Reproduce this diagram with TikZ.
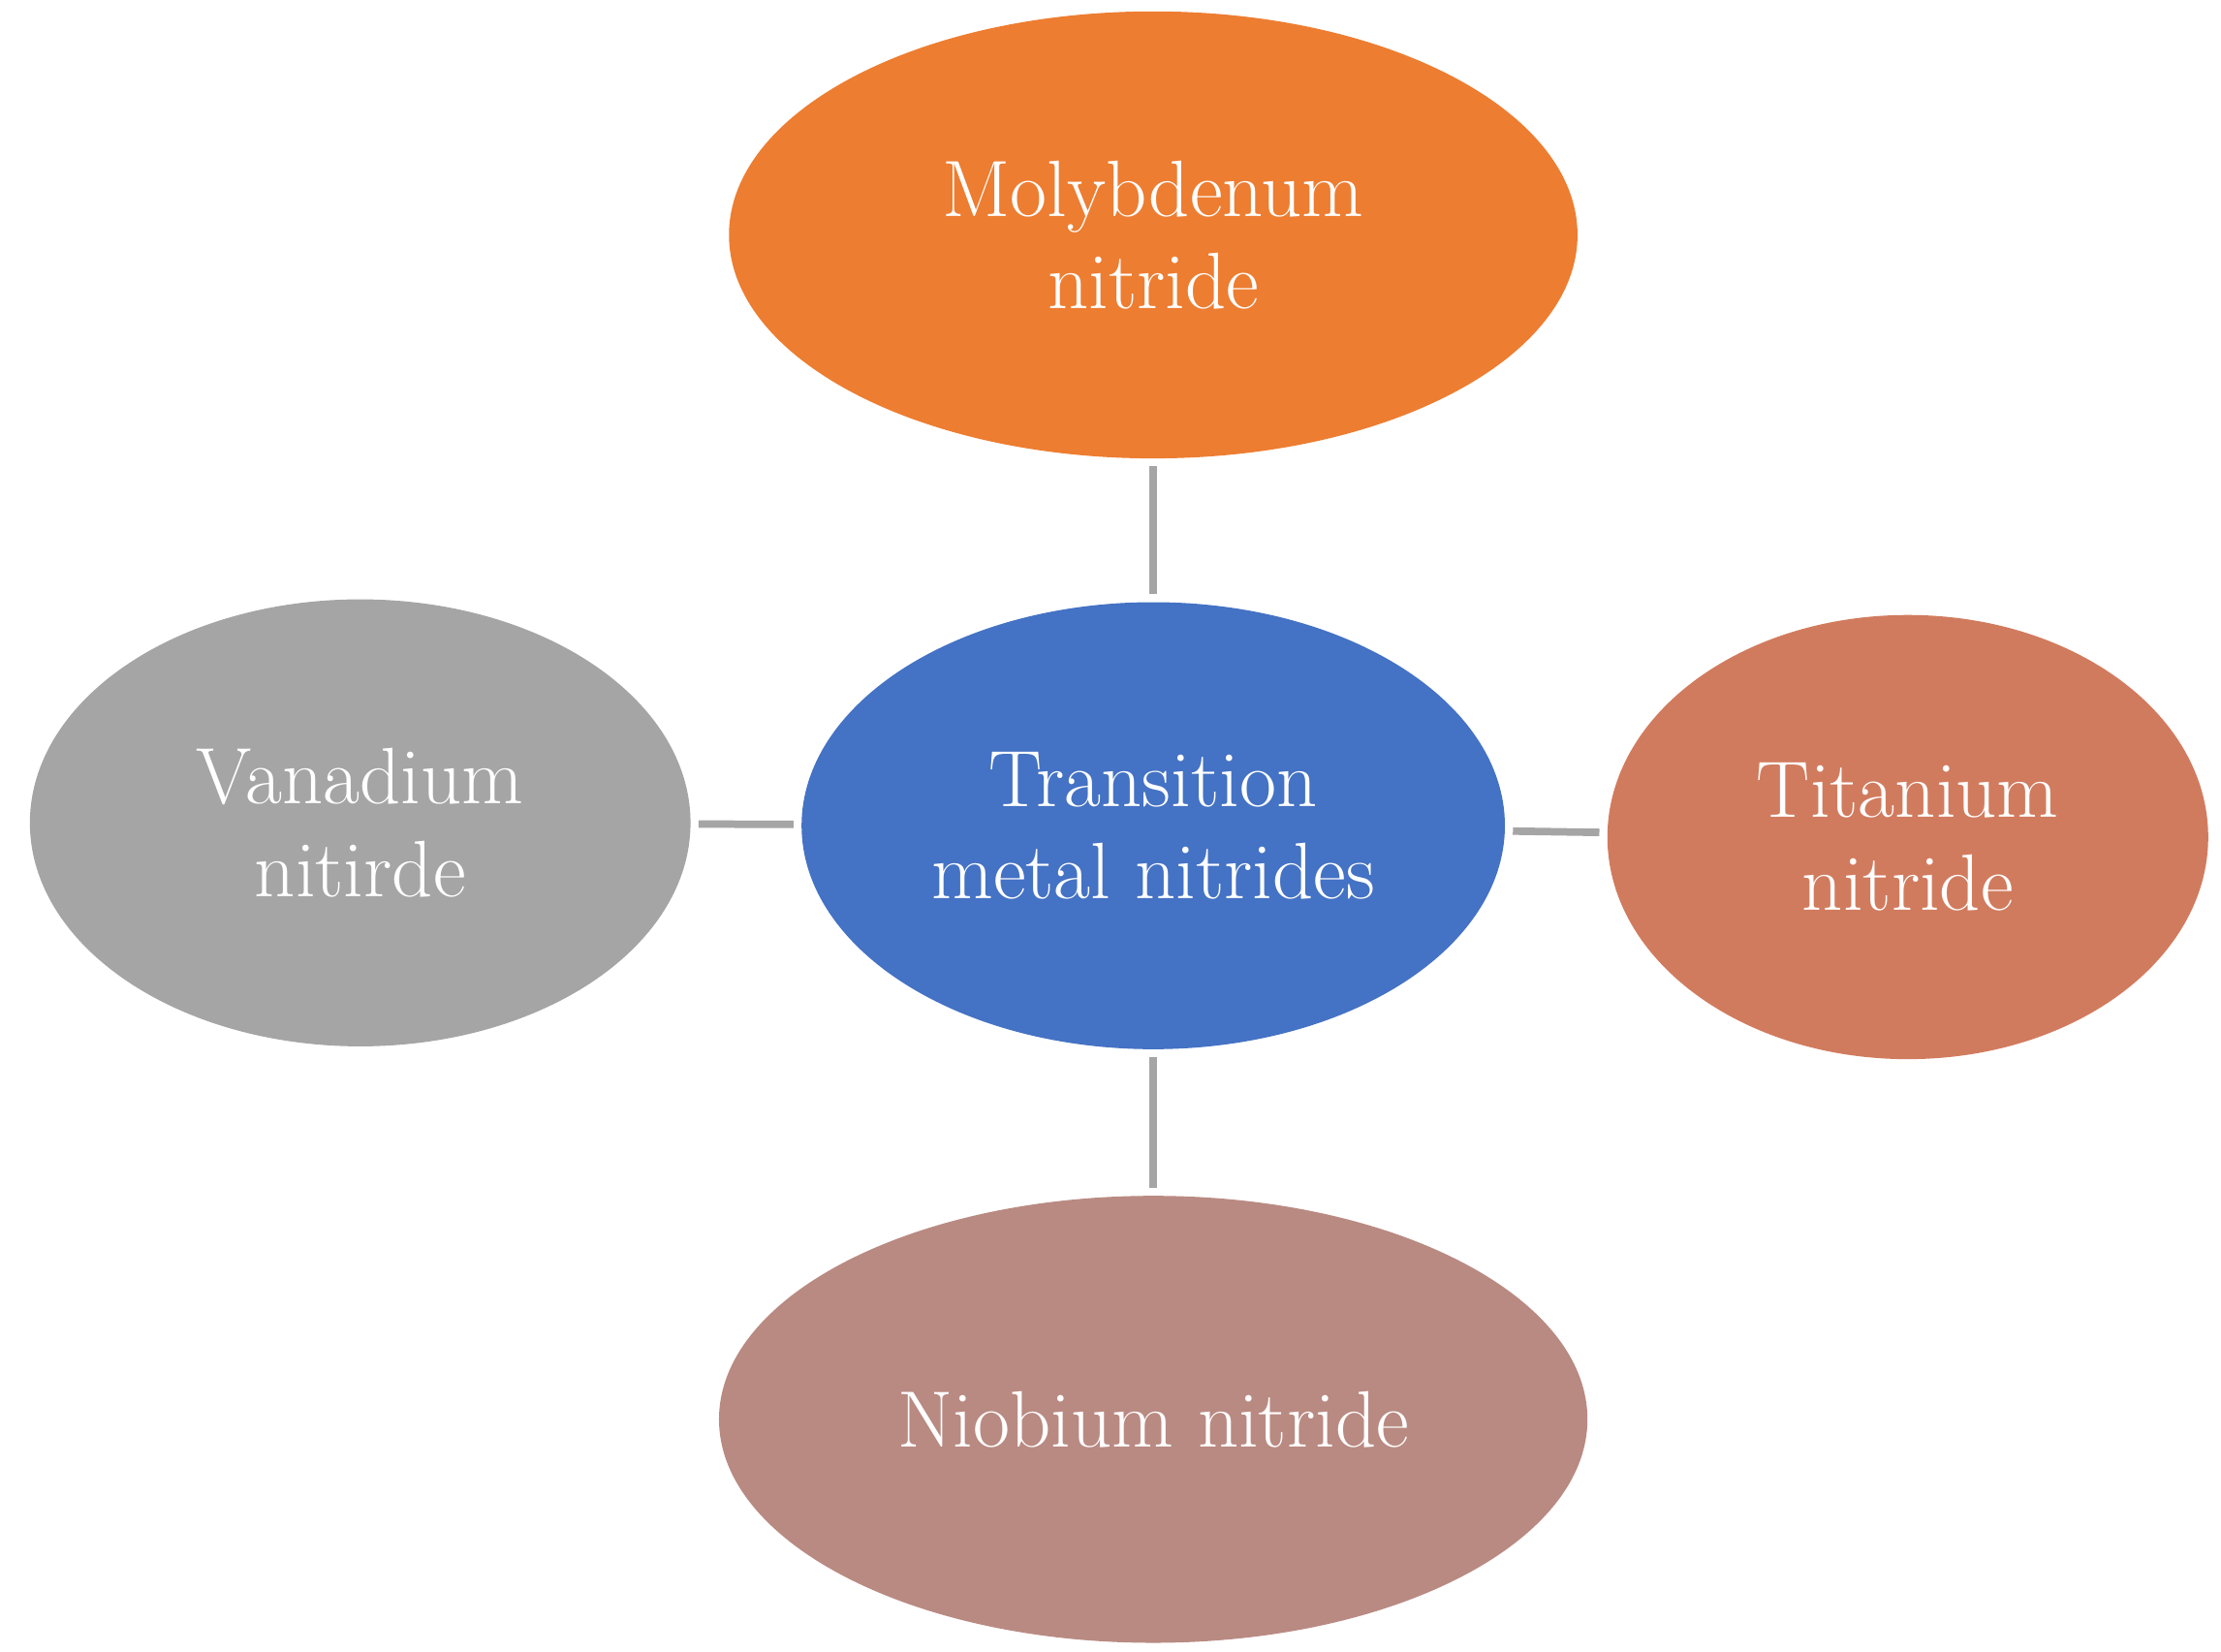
\documentclass[tikz,border=0pt]{standalone}
\usetikzlibrary{shapes.geometric, positioning}
\definecolor{moly}{RGB}{237,125,49}
\definecolor{tmn}{RGB}{68,114,196}
\definecolor{vana}{RGB}{165,165,165}
\definecolor{tita}{RGB}{209,123,94}
\definecolor{niob}{RGB}{185,138,130}
\definecolor{link}{RGB}{165,165,165}
\begin{document}
\begin{tikzpicture}[
  every node/.style={
    ellipse,
    inner sep=0pt,
    text=white,
    align=center,
    font=\fontsize{16}{18.5}\selectfont,
  },
  link/.style={draw=link, line width=1.5pt, shorten <=0.05cm, shorten >=0.05cm}
]
\useasboundingbox (0,0) rectangle (15.6,-11.6);

\node[fill=tmn, minimum width=4.94cm, minimum height=3.14cm] (tmn) at (8.10,-5.80) {Transition\\metal nitrides};
\node[fill=moly, minimum width=5.96cm, minimum height=3.14cm] (moly) at (8.10,-1.65) {Molybdenum\\nitride};
\node[fill=vana, minimum width=4.64cm, minimum height=3.14cm] (vana) at (2.53,-5.78) {Vanadium\\nitirde};
\node[fill=tita, minimum width=4.22cm, minimum height=3.12cm] (tita) at (13.40,-5.88) {Titanium\\nitride};
\node[fill=niob, minimum width=6.10cm, minimum height=3.14cm] (niob) at (8.10,-9.97) {Niobium nitride};

% links to the centre
\draw[link] (moly) -- (tmn);
\draw[link] (tmn) -- (niob);
\draw[link] (vana) -- (tmn);
\draw[link] (tmn) -- (tita);

\end{tikzpicture}
\end{document}
